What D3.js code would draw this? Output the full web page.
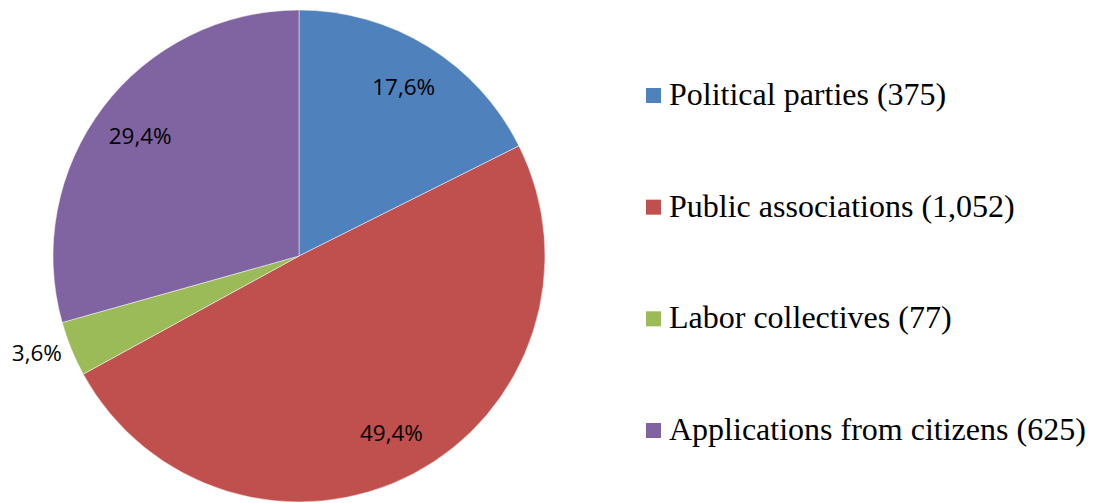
<!DOCTYPE html>
<html>
<head>
<meta charset="utf-8">
<script src="https://cdn.jsdelivr.net/npm/d3@7"></script>
<style>
  html, body { margin: 0; padding: 0; background: #fff; }
  svg { display: block; }
  .legend-text { font-family: "Liberation Serif", "Times New Roman", Times, "DejaVu Serif", serif; font-size: 32px; }
  .pct { font-family: "Open Sans", sans-serif; font-size: 22.5px; }
</style>
</head>
<body>
<svg id="chart" width="1098" height="503"></svg>
<script>
// Applications by source
const categories = [
  "Political parties",
  "Public associations",
  "Labor collectives",
  "Applications from citizens"
];
const counts = [375, 1052, 77, 625];
const countLabels = ["375", "1,052", "77", "625"];
const colors = ["#4F81BD", "#C0504D", "#9BBB59", "#8064A2"];

const width = 1098, height = 503;
const cx = 299, cy = 256, radius = 246;

const svg = d3.select("#chart");

const total = d3.sum(counts);
const data = categories.map((c, i) => ({ name: c, value: counts[i], label: countLabels[i], color: colors[i] }));

const pie = d3.pie().value(d => d.value).sort(null).startAngle(0).endAngle(2 * Math.PI);
const arcs = pie(data);

const arc = d3.arc().innerRadius(0).outerRadius(radius);
// labels sit on a ring inside the slices
const labelArc = d3.arc().innerRadius(radius * 0.81).outerRadius(radius * 0.81);
// small slices get their label just outside the rim
const outerArc = d3.arc().innerRadius(radius + 10).outerRadius(radius + 10);

const fmt = v => (v * 100).toFixed(1).replace(".", ",") + "%";

const g = svg.append("g").attr("transform", `translate(${cx},${cy})`);

g.selectAll("path.slice")
  .data(arcs)
  .join("path")
  .attr("class", "slice")
  .attr("d", arc)
  .attr("fill", d => d.data.color)
  .attr("stroke", "#ffffff")
  .attr("stroke-opacity", 0.6)
  .attr("stroke-width", 0.8);

g.selectAll("text.pct")
  .data(arcs)
  .join("text")
  .attr("class", "pct")
  .each(function (d) {
    const share = d.data.value / total;
    const sel = d3.select(this);
    if (share < 0.05) {
      const [x, y] = outerArc.centroid(d);
      sel.attr("x", x).attr("y", y).attr("text-anchor", "end");
    } else {
      const [x, y] = labelArc.centroid(d);
      sel.attr("x", x).attr("y", y).attr("text-anchor", "middle");
    }
  })
  .attr("dy", "0.36em")
  .attr("fill", "#000")
  .text(d => fmt(d.data.value / total));

// Legend
const legendY = d3.scalePoint()
  .domain(categories)
  .range([105, 440]);

const legend = svg.append("g");
const items = legend.selectAll("g.item")
  .data(data)
  .join("g")
  .attr("class", "item")
  .attr("transform", d => `translate(646,${legendY(d.name)})`);

items.append("rect")
  .attr("x", 0)
  .attr("y", -17)
  .attr("width", 15)
  .attr("height", 15)
  .attr("fill", d => d.color);

items.append("text")
  .attr("class", "legend-text")
  .attr("x", 23)
  .attr("y", 0)
  .attr("fill", "#000")
  .text(d => `${d.name} (${d.label})`);
</script>
</body>
</html>
